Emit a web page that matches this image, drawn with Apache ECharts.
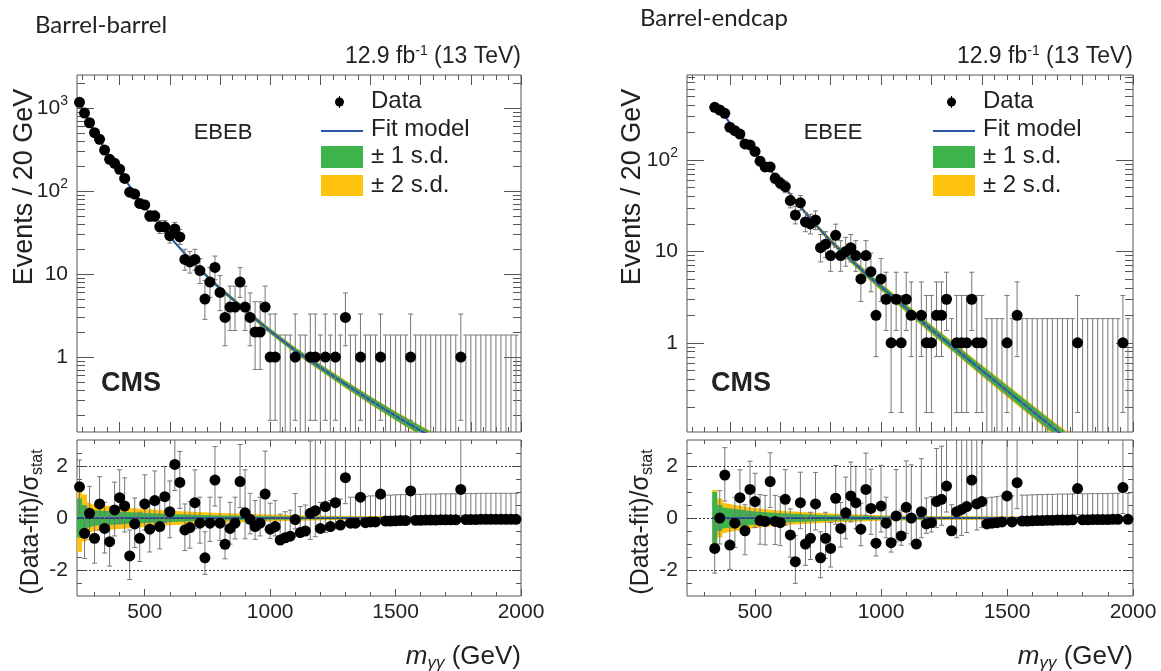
<!DOCTYPE html>
<html>
<head>
<meta charset="utf-8">
<title>Diphoton mass spectra, EBEB and EBEE</title>
<script src="https://cdn.jsdelivr.net/npm/echarts@6.0.0/dist/echarts.min.js"></script>
<style>
  html, body { margin: 0; padding: 0; background: #fff; }
  #chart { width: 1161px; height: 671px; }
</style>
</head>
<body>
<div id="chart"></div>
<script>
var binWidth = 20;
var massMin = 230;
var massMax = 2000;

// ---------- Barrel-barrel (EBEB) ----------
var ebFirstBin = 240;
var ebCounts = [
  1170, 870, 665, 505, 420, 312, 241, 216, 183, 142,
  97, 92, 71, 68, 50, 50, 37, 37, 29, 35,
  28, 15, 14, 15, 11, 5, 8, 12, 6, 3,
  4, 4, 8, 4, 3, 2, 2, 4, 1, 1,
  0, 0, 0, 1, 0, 0, 1, 1, 0, 1,
  0, 1, 0, 3, 0, 0, 1, 0, 0, 0,
  1, 0, 0, 0, 0, 0, 1, 0, 0, 0,
  0, 0, 0, 0, 0, 0, 1, 0, 0, 0,
  0, 0, 0, 0, 0, 0, 0, 0
];
var ebPulls = [
  1.2, -0.59, 0.18, -0.78, 0.54, -0.4, -0.91, 0.31, 0.78, 0.46,
  -1.46, -0.23, -0.78, 0.54, -0.43, 0.67, -0.33, 0.82, 0.24, 2.06,
  1.37, -0.46, -0.37, 0.59, -0.2, -1.53, -0.2, 1.46, -0.2, -1.01,
  -0.4, -0.2, 1.4, 0.2, -0.05, -0.33, -0.2, 0.92, -0.43, -0.33,
  -0.85, -0.76, -0.7, -0.06, -0.56, -0.5, 0.18, 0.28, -0.4, 0.44,
  -0.33, 0.59, -0.27, 1.55, -0.2, -0.2, 0.8, -0.18, -0.15, -0.15,
  0.92, -0.12, -0.12, -0.11, -0.1, -0.1, 1.04, -0.09, -0.09, -0.08,
  -0.08, -0.08, -0.07, -0.07, -0.07, -0.07, 1.1, -0.06, -0.06, -0.06,
  -0.05, -0.05, -0.05, -0.05, -0.05, -0.05, -0.05, -0.05
];
var ebFitMass = [240, 260, 280, 300, 350, 400, 450, 500, 550, 600, 650, 700, 750,
  800, 850, 900, 950, 1000, 1100, 1200, 1300, 1400, 1500, 1600, 1700];
var ebFitVal = [1130, 885, 670, 520, 285, 172, 103, 64, 42, 28, 19, 13, 9.3,
  6.7, 5.0, 3.7, 2.75, 2.05, 1.2, 0.75, 0.47, 0.3, 0.195, 0.13, 0.088];
// half widths of the fit bands, in decades
var ebFitSd1 = [0.005, 0.005, 0.005, 0.005, 0.006, 0.007, 0.008, 0.009, 0.01, 0.012, 0.014, 0.016, 0.018,
  0.02, 0.022, 0.024, 0.026, 0.028, 0.032, 0.036, 0.04, 0.044, 0.048, 0.052, 0.056];
var ebFitSd2 = [0.007, 0.007, 0.007, 0.007, 0.008, 0.009, 0.01, 0.012, 0.013, 0.015, 0.017, 0.02, 0.022,
  0.024, 0.027, 0.029, 0.031, 0.034, 0.038, 0.043, 0.047, 0.052, 0.056, 0.061, 0.065];
var ebPullBandMass = [230, 250, 250, 270, 270, 300, 400, 500, 600, 800, 1000, 1200, 1600, 2000];
var ebPullSd1 = [0.75, 0.75, 0.5, 0.5, 0.38, 0.3, 0.24, 0.19, 0.15, 0.1, 0.07, 0.05, 0.04, 0.03];
var ebPullSd2 = [1.3, 1.3, 0.9, 0.9, 0.62, 0.5, 0.42, 0.35, 0.28, 0.19, 0.13, 0.09, 0.07, 0.06];

// ---------- Barrel-endcap (EBEE) ----------
var eeFirstBin = 340;
var eeCounts = [
  377, 352, 324, 228, 209, 192, 150, 146, 124, 97,
  84, 84, 63, 56, 51, 36, 25, 34, 21, 20,
  22, 11, 12, 9, 15, 9, 10, 11, 9, 5,
  9, 6, 2, 5, 3, 1, 3, 1, 3, 2,
  0, 2, 1, 1, 2, 2, 3, 0, 1, 1,
  1, 3, 1, 1, 0, 0, 0, 0, 1, 0,
  2, 0, 0, 0, 0, 0, 0, 0, 0, 0,
  0, 0, 1, 0, 0, 0, 0, 0, 0, 0,
  0, 1, 0
];
var eePulls = [
  -1.17, 0.0, 1.65, -1.04, -0.2, 0.78, -0.49, 1.1, 0.63, -0.1,
  -0.13, 1.4, -0.13, -0.18, 0.72, -0.65, -1.68, 0.59, -1.0, -0.78,
  0.54, -1.53, -0.78, -1.17, 0.76, -0.4, 0.2, 0.85, 0.59, -0.43,
  1.1, 0.37, -0.97, 0.46, -0.2, -0.95, 0.08, -0.69, 0.41, 0.0,
  -1.0, 0.24, -0.23, -0.18, 0.63, 0.72, 1.23, -0.49, 0.24, 0.33,
  0.44, 1.46, 0.54, 0.63, -0.23, -0.2, -0.18, -0.15, 0.85, -0.15,
  1.36, -0.12, -0.12, -0.11, -0.1, -0.1, -0.09, -0.09, -0.08, -0.08,
  -0.08, -0.07, 1.13, -0.07, -0.07, -0.06, -0.06, -0.06, -0.06, -0.05,
  -0.05, 1.17, -0.05
];
var eeFitMass = [340, 360, 380, 400, 420, 440, 460, 480, 500, 550, 600, 650, 700, 750,
  800, 850, 900, 950, 1000, 1100, 1200, 1300, 1400, 1500, 1600, 1700, 1750];
var eeFitVal = [400, 350, 300, 255, 218, 187, 160, 138, 119, 83, 58, 39, 26.5, 18.3,
  13, 9.6, 7.2, 5.4, 4.1, 2.4, 1.4, 0.84, 0.5, 0.3, 0.18, 0.108, 0.085];
var eeFitSd1 = [0.005, 0.005, 0.005, 0.005, 0.005, 0.006, 0.006, 0.007, 0.007, 0.009, 0.011, 0.013, 0.016, 0.018,
  0.021, 0.024, 0.027, 0.03, 0.033, 0.037, 0.041, 0.045, 0.049, 0.053, 0.057, 0.06, 0.062];
var eeFitSd2 = [0.008, 0.008, 0.008, 0.008, 0.008, 0.009, 0.009, 0.01, 0.01, 0.013, 0.016, 0.019, 0.023, 0.026,
  0.029, 0.033, 0.036, 0.04, 0.043, 0.048, 0.053, 0.058, 0.063, 0.068, 0.072, 0.076, 0.078];
var eePullBandMass = [330, 350, 350, 370, 370, 420, 500, 600, 800, 1000, 1200, 1600, 2000];
var eePullSd1 = [1.0, 1.0, 0.5, 0.5, 0.4, 0.35, 0.25, 0.18, 0.11, 0.07, 0.05, 0.04, 0.03];
var eePullSd2 = [1.08, 1.08, 0.75, 0.75, 0.6, 0.5, 0.38, 0.28, 0.17, 0.11, 0.08, 0.06, 0.05];

// 68% Poisson intervals for small counts
var poisLo = [0, 0.173, 0.708, 1.367, 2.086, 2.840, 3.620, 4.419, 5.232, 6.057, 6.891];
var poisHi = [1.841, 3.300, 4.638, 5.918, 7.163, 8.382, 9.584, 10.77, 11.95, 13.11, 14.27];

// tick positions
var xMajorUp = [400, 600, 800, 1000, 1200, 1400, 1600, 1800, 2000];
var xMajorLow = [500, 1000, 1500, 2000];
var pullMajor = [-2, 0, 2];
var pullMinor = [-2.5, -1.5, -1, -0.5, 0.5, 1, 1.5, 2.5];

var frame = '#555';
var ink = '#222';
var blue = '#2a56a8';
var green = '#3cb44b';
var yellow = '#ffc20e';
var errColor = '#777';
var font = 'Liberation Sans';

function poisson(n) {
  if (n <= 10) return [poisLo[n], poisHi[n]];
  var s = Math.sqrt(n);
  return [n - s, n + s + 1];
}

function stepVals(from, to, step, skip) {
  var out = [];
  for (var v = from; v <= to + 1e-9; v += step) {
    if (skip.indexOf(v) < 0) out.push(v);
  }
  return out;
}

var xMinorUp = stepVals(250, 1950, 50, xMajorUp);
var xMinorLow = stepVals(300, 1900, 100, xMajorLow);

function logMinors(yMin, yMax) {
  var out = [];
  for (var e = -1; e <= 3; e++) {
    for (var k = 2; k <= 9; k++) {
      var v = k * Math.pow(10, e);
      if (v > yMin && v < yMax) out.push(Math.log10(v));
    }
  }
  return out;
}

function tickAxis(gridIndex, position, values, len, extra) {
  var ax = {
    type: 'value', gridIndex: gridIndex, position: position,
    axisLine: { show: false, onZero: false },
    splitLine: { show: false },
    axisTick: { show: true, inside: true, length: len, customValues: values, lineStyle: { color: frame, width: 1 } },
    axisLabel: { show: false }
  };
  for (var k in extra) ax[k] = extra[k];
  return ax;
}

function errorBarRender(yMin, yMax) {
  return function (params, api) {
    var m = api.value(0), lo = api.value(1), hi = api.value(2);
    var a = api.coord([m, Math.max(lo, yMin)]);
    var b = api.coord([m, Math.min(hi, yMax)]);
    var st = { stroke: errColor, lineWidth: 1 };
    var els = [{ type: 'line', shape: { x1: a[0], y1: a[1], x2: b[0], y2: b[1] }, style: st }];
    if (lo > yMin) els.push({ type: 'line', shape: { x1: a[0] - 2.5, y1: a[1], x2: a[0] + 2.5, y2: a[1] }, style: st });
    if (hi < yMax) els.push({ type: 'line', shape: { x1: b[0] - 2.5, y1: b[1], x2: b[0] + 2.5, y2: b[1] }, style: st });
    return { type: 'group', children: els };
  };
}

function bandSeries(xi, yi, mass, lo, hi, color, z) {
  return {
    type: 'custom', xAxisIndex: xi, yAxisIndex: yi, clip: true, silent: true, z: z,
    data: mass.map(function (m, i) { return [m, lo[i], hi[i]]; }),
    encode: { x: 0, y: [1, 2] },
    renderItem: function (params, api) {
      if (params.dataIndex !== 0) return null;
      var top = [], bot = [];
      for (var i = 0; i < mass.length; i++) {
        top.push(api.coord([mass[i], hi[i]]));
        bot.unshift(api.coord([mass[i], lo[i]]));
      }
      return { type: 'polygon', shape: { points: top.concat(bot) }, style: { fill: color } };
    }
  };
}

var panels = [
  { left: 77, width: 444, first: ebFirstBin, counts: ebCounts, pulls: ebPulls,
    fitMass: ebFitMass, fitVal: ebFitVal, sd1: ebFitSd1, sd2: ebFitSd2,
    bandMass: ebPullBandMass, bandSd1: ebPullSd1, bandSd2: ebPullSd2,
    yMin: 0.125, yMax: 2500, decades: [0, 1, 2, 3] },
  { left: 687, width: 446, first: eeFirstBin, counts: eeCounts, pulls: eePulls,
    fitMass: eeFitMass, fitVal: eeFitVal, sd1: eeFitSd1, sd2: eeFitSd2,
    bandMass: eePullBandMass, bandSd1: eePullSd1, bandSd2: eePullSd2,
    yMin: 0.106, yMax: 850, decades: [0, 1, 2] }
];

var grids = [], xAxes = [], yAxes = [], series = [];
var xLabel = { show: true, customValues: xMajorLow, margin: 6, color: ink, fontFamily: font, fontSize: 21,
  formatter: function (v) { return String(v); } };

panels.forEach(function (p) {
  var gU = grids.length;
  grids.push({ left: p.left, top: 75, width: p.width, height: 357, show: true, borderColor: frame, borderWidth: 1 });
  var gL = grids.length;
  grids.push({ left: p.left, top: 440, width: p.width, height: 156, show: true, borderColor: frame, borderWidth: 1 });

  var xr = { min: massMin, max: massMax };
  var xU = xAxes.length;
  xAxes.push(tickAxis(gU, 'bottom', xMajorUp, 10, xr));
  xAxes.push(tickAxis(gU, 'bottom', xMinorUp, 5, xr));
  xAxes.push(tickAxis(gU, 'top', xMajorUp, 10, xr));
  xAxes.push(tickAxis(gU, 'top', xMinorUp, 5, xr));
  var xL = xAxes.length;
  xAxes.push(tickAxis(gL, 'bottom', xMajorLow, 7, { min: massMin, max: massMax, axisLabel: xLabel }));
  xAxes.push(tickAxis(gL, 'bottom', xMinorLow, 4, xr));
  xAxes.push(tickAxis(gL, 'top', xMajorLow, 7, xr));
  xAxes.push(tickAxis(gL, 'top', xMinorLow, 4, xr));

  var yU = yAxes.length;
  yAxes.push({ type: 'log', logBase: 10, gridIndex: gU, min: p.yMin, max: p.yMax, show: false });
  var lr = { min: Math.log10(p.yMin), max: Math.log10(p.yMax) };
  var minors = logMinors(p.yMin, p.yMax);
  yAxes.push(tickAxis(gU, 'left', p.decades, 17, {
    min: lr.min, max: lr.max,
    axisLabel: {
      show: true, customValues: p.decades, margin: 9, color: ink, fontFamily: font, fontSize: 21,
      formatter: function (v) {
        v = Math.round(v);
        if (v === 0) return '1';
        if (v === 1) return '10';
        return '{b|10}{s|' + v + '}';
      },
      rich: {
        b: { fontFamily: font, fontSize: 21, color: ink },
        s: { fontFamily: font, fontSize: 14, color: ink, padding: [0, 0, 14, 0] }
      }
    }
  }));
  yAxes.push(tickAxis(gU, 'left', minors, 8, lr));
  yAxes.push(tickAxis(gU, 'right', p.decades, 17, lr));
  yAxes.push(tickAxis(gU, 'right', minors, 8, lr));

  var yL = yAxes.length;
  var pr = { min: -3, max: 3 };
  yAxes.push(tickAxis(gL, 'left', pullMajor, 9, {
    min: -3, max: 3,
    axisLabel: { show: true, customValues: pullMajor, margin: 9, color: ink, fontFamily: font, fontSize: 21,
      formatter: function (v) { return String(v); } }
  }));
  yAxes.push(tickAxis(gL, 'left', pullMinor, 5, pr));
  yAxes.push(tickAxis(gL, 'right', pullMajor, 9, pr));
  yAxes.push(tickAxis(gL, 'right', pullMinor, 5, pr));

  // ----- upper panel -----
  var mass = p.counts.map(function (n, i) { return p.first + i * binWidth; });
  series.push(bandSeries(xU, yU, p.fitMass,
    p.fitVal.map(function (v, i) { return v / Math.pow(10, p.sd2[i]); }),
    p.fitVal.map(function (v, i) { return v * Math.pow(10, p.sd2[i]); }), yellow, 1));
  series.push(bandSeries(xU, yU, p.fitMass,
    p.fitVal.map(function (v, i) { return v / Math.pow(10, p.sd1[i]); }),
    p.fitVal.map(function (v, i) { return v * Math.pow(10, p.sd1[i]); }), green, 2));
  series.push({
    type: 'line', xAxisIndex: xU, yAxisIndex: yU, z: 3, silent: true, clip: true,
    showSymbol: false, symbol: 'none',
    lineStyle: { color: blue, width: 2 },
    data: p.fitMass.map(function (m, i) { return [m, p.fitVal[i]]; })
  });
  series.push({
    type: 'custom', xAxisIndex: xU, yAxisIndex: yU, z: 4, silent: true, clip: true,
    encode: { x: 0, y: [1, 2] },
    data: p.counts.map(function (n, i) {
      var iv = poisson(n);
      return [mass[i], Math.max(iv[0], 1e-3), iv[1]];
    }),
    renderItem: errorBarRender(p.yMin, p.yMax)
  });
  series.push({
    type: 'scatter', xAxisIndex: xU, yAxisIndex: yU, z: 5, silent: true,
    symbol: 'circle', symbolSize: 11, itemStyle: { color: '#000', opacity: 1 },
    data: p.counts.map(function (n, i) { return [mass[i], n]; }).filter(function (d) { return d[1] > 0; })
  });

  // ----- pull panel -----
  series.push({
    type: 'line', xAxisIndex: xL, yAxisIndex: yL, z: 0, silent: true, data: [],
    markLine: {
      silent: true, symbol: 'none', label: { show: false },
      lineStyle: { color: '#333', width: 1, type: [2, 2] },
      data: [{ yAxis: 2 }, { yAxis: 0 }, { yAxis: -2 }]
    }
  });
  series.push(bandSeries(xL, yL, p.bandMass,
    p.bandSd2.map(function (w) { return -w; }), p.bandSd2, yellow, 1));
  series.push(bandSeries(xL, yL, p.bandMass,
    p.bandSd1.map(function (w) { return -w; }), p.bandSd1, green, 2));
  series.push({
    type: 'line', xAxisIndex: xL, yAxisIndex: yL, z: 3, silent: true,
    showSymbol: false, symbol: 'none', lineStyle: { color: blue, width: 2 },
    data: p.bandMass.map(function (m) { return [m, 0]; })
  });
  series.push({
    type: 'custom', xAxisIndex: xL, yAxisIndex: yL, z: 4, silent: true, clip: true,
    encode: { x: 0, y: [1, 2] },
    data: p.counts.map(function (n, i) {
      var pull = p.pulls[i], iv = poisson(n), s;
      if (n === 0) return [mass[i], pull, pull + 1];
      if (pull >= 0) { s = n - iv[0]; return [mass[i], pull - 1, pull + (iv[1] - n) / s]; }
      s = iv[1] - n;
      return [mass[i], pull - (n - iv[0]) / s, pull + 1];
    }),
    renderItem: errorBarRender(-3, 3)
  });
  series.push({
    type: 'scatter', xAxisIndex: xL, yAxisIndex: yL, z: 5, silent: true,
    symbol: 'circle', symbolSize: 11, itemStyle: { color: '#000', opacity: 1 },
    data: p.pulls.map(function (v, i) { return [mass[i], v]; })
  });
});

// ----- texts and legends -----
function txt(x, y, text, fontCss, align, rich, rotation) {
  var el = {
    type: 'text', x: x, y: y, silent: true,
    style: { text: text, font: fontCss, fill: ink, align: align, verticalAlign: 'middle',
      textAlign: align, textVerticalAlign: 'middle' }
  };
  if (rich) el.style.rich = rich;
  if (rotation) el.rotation = rotation;
  return el;
}

var lumiRich = {
  n: { fontFamily: font, fontSize: 23, fill: ink },
  s: { fontFamily: font, fontSize: 14, fill: ink, padding: [0, 0, 12, 0] }
};
var pullRich = {
  n: { fontFamily: font, fontSize: 25, fill: ink },
  b: { fontFamily: font, fontSize: 16, fill: ink, padding: [13, 0, 0, 0] }
};
var massRich = {
  i: { fontFamily: font, fontSize: 26, fontStyle: 'italic', fill: ink },
  b: { fontFamily: font, fontSize: 17, fontStyle: 'italic', fill: ink, padding: [12, 0, 0, 0] },
  n: { fontFamily: font, fontSize: 26, fill: ink }
};

var graphic = [
  txt(35, 25, 'Barrel-barrel', '24px Lato', 'left'),
  txt(640, 18, 'Barrel-endcap', '24px Lato', 'left')
];
var tags = ['EBEB', 'EBEE'];
panels.forEach(function (p, k) {
  var right = p.left + p.width;
  var dx = k === 0 ? 0 : 612;
  graphic.push(txt(right, 57, '{n|12.9 fb}{s|-1}{n| (13 TeV)}', '23px ' + font, 'right', lumiRich));
  graphic.push(txt(p.left + 146, 133, tags[k], '22px ' + font, 'center'));
  graphic.push(txt(p.left + 24, 384, 'CMS', 'bold 27px ' + font, 'left'));
  graphic.push(txt(k === 0 ? 25 : 633, 187, 'Events / 20 GeV', '27px ' + font, 'center', null, Math.PI / 2));
  graphic.push(txt(k === 0 ? 31 : 641, 522, '{n|(Data-fit)/σ}{b|stat}', '25px ' + font, 'center', pullRich, Math.PI / 2));
  graphic.push(txt(right, 657, '{i|m}{b|γγ}{n| (GeV)}', '26px ' + font, 'right', massRich));

  // legend
  graphic.push({ type: 'line', silent: true, shape: { x1: 339.5 + dx, y1: 96, x2: 339.5 + dx, y2: 108 }, style: { stroke: '#000', lineWidth: 1 } });
  graphic.push({ type: 'circle', silent: true, shape: { cx: 339.5 + dx, cy: 102, r: 4.5 }, style: { fill: '#000' } });
  graphic.push(txt(371 + dx, 101, 'Data', '24px ' + font, 'left'));
  graphic.push({ type: 'line', silent: true, shape: { x1: 321 + dx, y1: 131, x2: 363 + dx, y2: 131 }, style: { stroke: blue, lineWidth: 2 } });
  graphic.push(txt(371 + dx, 129, 'Fit model', '24px ' + font, 'left'));
  graphic.push({ type: 'rect', silent: true, shape: { x: 321 + dx, y: 146, width: 42, height: 22 }, style: { fill: green } });
  graphic.push(txt(371 + dx, 156, '± 1 s.d.', '24px ' + font, 'left'));
  graphic.push({ type: 'rect', silent: true, shape: { x: 321 + dx, y: 175, width: 42, height: 21 }, style: { fill: yellow } });
  graphic.push(txt(371 + dx, 185, '± 2 s.d.', '24px ' + font, 'left'));
});

var chart = echarts.init(document.getElementById('chart'), null, { renderer: 'canvas' });
chart.setOption({
  animation: false,
  backgroundColor: '#fff',
  textStyle: { fontFamily: font },
  grid: grids,
  xAxis: xAxes,
  yAxis: yAxes,
  series: series,
  graphic: graphic
});
</script>
</body>
</html>
